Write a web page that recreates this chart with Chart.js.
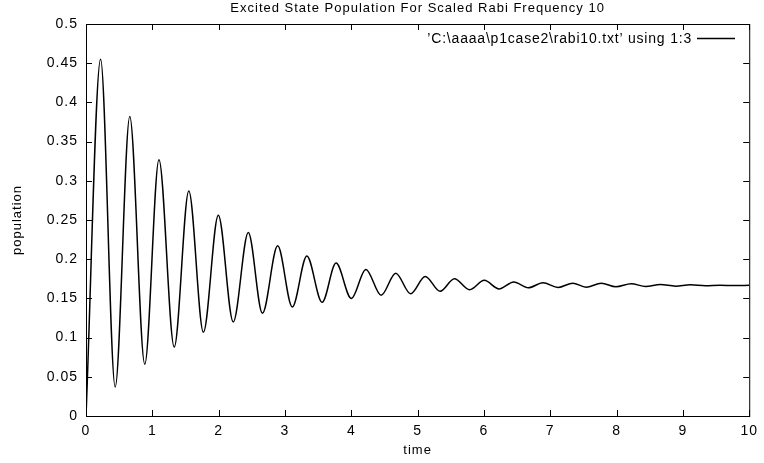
<!DOCTYPE html>
<html>
<head>
<meta charset="utf-8">
<script src="https://cdn.jsdelivr.net/npm/chart.js@4"></script>
<style>
  html, body { margin: 0; padding: 0; background: #fff; }
  canvas { display: block; }
</style>
</head>
<body>
<canvas id="rabiChart" width="764" height="463"></canvas>
<script>
// values (peaks and troughs of the oscillation)
const times = [0, 0.22, 0.44, 0.66, 0.886, 1.10, 1.33, 1.55, 1.77, 1.995, 2.22, 2.447, 2.66, 2.89,
  3.11, 3.33, 3.56, 3.77, 4.00, 4.22, 4.45, 4.67, 4.895, 5.115, 5.34, 5.555, 5.785, 6.006, 6.227,
  6.45, 6.67, 6.89, 7.12, 7.34, 7.54, 7.77, 7.99, 8.22, 8.44, 8.66, 8.89, 9.11, 9.34, 9.56, 9.77, 10];
const population = [0, 0.455, 0.037, 0.382, 0.066, 0.327, 0.088, 0.287, 0.107, 0.256, 0.120, 0.234, 0.131, 0.217,
  0.139, 0.204, 0.145, 0.195, 0.150, 0.187, 0.154, 0.182, 0.156, 0.178, 0.159, 0.175, 0.161, 0.173, 0.162,
  0.171, 0.1635, 0.170, 0.164, 0.1694, 0.1643, 0.1694, 0.1648, 0.1686, 0.1652, 0.1677, 0.1656, 0.1673, 0.1661, 0.1668, 0.1664, 0.1667];

const xTicks = [0, 1, 2, 3, 4, 5, 6, 7, 8, 9, 10];
const yTicks = ['0', '0.05', '0.1', '0.15', '0.2', '0.25', '0.3', '0.35', '0.4', '0.45', '0.5'];

const chartTitle = 'Excited State Population For Scaled Rabi Frequency 10';
const legendLabel = '\u2019C:\\aaaa\\p1case2\\rabi10.txt\u2019 using 1:3';

const FONT = "'Liberation Sans', Arial, Helvetica, sans-serif";
Chart.defaults.font.family = FONT;
Chart.defaults.color = '#000';

// gnuplot style frame: border, inward ticks on all sides, title and key
const gnuplotFrame = {
  id: 'gnuplotFrame',
  beforeDraw(chart) {
    chart.ctx.letterSpacing = '1px';
  },
  afterDraw(chart) {
    const ctx = chart.ctx;
    const { left, right, top, bottom } = chart.chartArea;
    const xs = chart.scales.x, ys = chart.scales.y;
    const tl = 6;
    ctx.save();
    ctx.strokeStyle = '#000';
    ctx.lineWidth = 1;
    ctx.strokeRect(left + 0.5, top + 0.5, right - left, bottom - top);

    ctx.beginPath();
    xTicks.forEach(v => {
      const px = Math.round(xs.getPixelForValue(v)) + 0.5;
      ctx.moveTo(px, bottom); ctx.lineTo(px, bottom - tl);
      ctx.moveTo(px, top); ctx.lineTo(px, top + tl);
    });
    yTicks.forEach(t => {
      const py = Math.round(ys.getPixelForValue(Number(t))) + 0.5;
      ctx.moveTo(left, py); ctx.lineTo(left + tl, py);
      ctx.moveTo(right, py); ctx.lineTo(right - tl, py);
    });
    ctx.stroke();

    // title
    ctx.fillStyle = '#000';
    ctx.letterSpacing = '1px';
    ctx.font = '13px ' + FONT;
    ctx.textAlign = 'center';
    ctx.textBaseline = 'alphabetic';
    ctx.fillText(chartTitle, (left + right) / 2, 12);

    // key
    ctx.letterSpacing = '0.8px';
    ctx.font = '14px ' + FONT;
    ctx.textAlign = 'right';
    ctx.fillText(legendLabel, 692, 43);
    ctx.beginPath();
    ctx.lineWidth = 1.4;
    ctx.moveTo(697, 38.5);
    ctx.lineTo(735, 38.5);
    ctx.stroke();
    ctx.restore();
  }
};

new Chart(document.getElementById('rabiChart'), {
  type: 'line',
  data: {
    datasets: [{
      label: legendLabel,
      data: times.map((t, i) => ({ x: t, y: population[i] })),
      borderColor: '#000',
      borderWidth: 1.5,
      pointRadius: 0,
      fill: false,
      cubicInterpolationMode: 'monotone'
    }]
  },
  options: {
    responsive: false,
    animation: false,
    layout: { padding: { top: 24, right: 12, left: 0, bottom: 0 } },
    plugins: {
      legend: { display: false },
      title: { display: false },
      tooltip: { enabled: false }
    },
    scales: {
      x: {
        type: 'linear',
        min: 0,
        max: 10,
        afterBuildTicks: s => { s.ticks = xTicks.map(v => ({ value: v })); },
        afterFit: s => { s.height = 47; },
        grid: { display: false, drawTicks: false },
        border: { display: false },
        ticks: {
          font: { size: 14 },
          padding: 7,
          maxRotation: 0,
          callback: v => String(v)
        },
        title: {
          display: true,
          text: 'time',
          font: { size: 13 },
          padding: { top: 0, bottom: 5 }
        }
      },
      y: {
        min: 0,
        max: 0.5,
        afterBuildTicks: s => { s.ticks = yTicks.map(t => ({ value: Number(t) })); },
        afterFit: s => { s.width = 86; },
        grid: { display: false, drawTicks: false },
        border: { display: false },
        ticks: {
          font: { size: 14 },
          padding: 8,
          callback: v => yTicks.find(t => Number(t) === v) ?? String(v)
        },
        title: {
          display: true,
          text: 'population',
          font: { size: 13 },
          padding: { top: 10, bottom: 0 }
        }
      }
    }
  },
  plugins: [gnuplotFrame]
});
</script>
</body>
</html>
